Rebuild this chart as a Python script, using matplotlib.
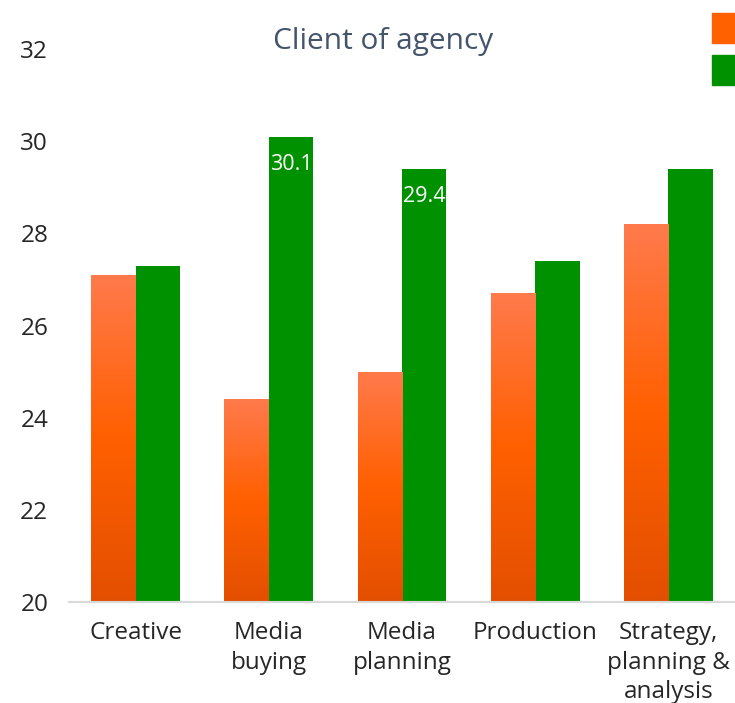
import matplotlib
matplotlib.use("Agg")
import matplotlib.pyplot as plt
import numpy as np
from matplotlib.colors import LinearSegmentedColormap
from matplotlib.patches import Patch

plt.rcParams["font.family"] = ["Open Sans", "DejaVu Sans"]

categories = ["Creative", "Media\nbuying", "Media\nplanning", "Production",
              "Strategy,\nplanning &\nanalysis"]
orange_vals = [27.1, 24.4, 25.0, 26.7, 28.2]
green_vals = [27.3, 30.1, 29.4, 27.4, 29.4]
green_labels = [None, "30.1", "29.4", None, None]
yticks = [20, 22, 24, 26, 28, 30, 32]

GREEN = "#009100"
ORANGE = "#FF6000"
orange_grad = LinearSegmentedColormap.from_list(
    "og", ["#E34F00", "#FF6000", "#FF7A4C"])

fig = plt.figure(figsize=(7.35, 7.03), dpi=100)
ax = fig.add_axes([69 / 735, 101 / 703, 1 - 69 / 735, 553 / 703])

x = np.arange(len(categories))
w = 0.334
obars = ax.bar(x - w / 2, orange_vals, w, color="none", edgecolor="none")
gbars = ax.bar(x + w / 2, green_vals, w, color=GREEN, edgecolor="none")

# vertical gradient fill for orange bars
grad = np.linspace(0, 1, 256).reshape(-1, 1)
for b, v in zip(obars, orange_vals):
    x0 = b.get_x()
    im = ax.imshow(grad, extent=[x0, x0 + w, 20, v], origin="lower",
                   aspect="auto", cmap=orange_grad, zorder=1)
    im.set_clip_path(b)

for b, lab in zip(gbars, green_labels):
    if lab:
        ax.text(b.get_x() + w / 2, b.get_height() - 0.38, lab, ha="center",
                va="top", color="white", fontsize=15.5)

ax.set_xlim(-0.5, len(categories) - 0.5)
ax.set_ylim(20, 32)
ax.set_yticks(yticks)
ax.set_xticks(x)
ax.set_xticklabels(categories, fontsize=17.5, color="#262626",
                   linespacing=1.3)
ax.tick_params(axis="y", length=0, pad=15, labelsize=17.5,
               labelcolor="#262626")
ax.tick_params(axis="x", length=0, pad=14)
for s in ["top", "right", "left"]:
    ax.spines[s].set_visible(False)
ax.spines["bottom"].set_color("#D9D9D9")
ax.spines["bottom"].set_linewidth(1.5)

fig.text(383 / 735, 1 - 42 / 703, "Client of agency",
         ha="center", va="center", fontsize=21.5, color="#44546A")

handles = [Patch(color=ORANGE), Patch(color=GREEN)]
fig.legend(handles, ["", ""], loc="upper left",
           bbox_to_anchor=(712 / 735, 1 - 13 / 703), frameon=False,
           fontsize=14, handlelength=1.6, handleheight=2.0,
           labelspacing=0.6, borderpad=0, borderaxespad=0,
           handletextpad=0)

fig.savefig("out.png", dpi=100)
